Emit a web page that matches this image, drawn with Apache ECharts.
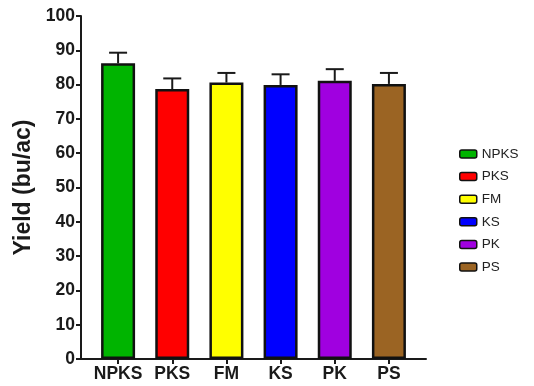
<!DOCTYPE html>
<html><head><meta charset="utf-8">
<script src="https://cdn.jsdelivr.net/npm/echarts@6/dist/echarts.min.js"></script>
<style>html,body{margin:0;padding:0;background:#fff}#c{width:534px;height:386px}</style>
</head><body><div id="c"></div>
<script>
var categories = ['NPKS', 'PKS', 'FM', 'KS', 'PK', 'PS'];
var yields = [86.2, 78.7, 80.6, 79.9, 81.1, 80.2];
var errors = [3.1, 3.1, 2.8, 3.1, 3.4, 3.2];
var colors = ['#00b400', '#ff0000', '#ffff00', '#0000ff', '#a000e0', '#9b6423'];
var yTicks = [0, 10, 20, 30, 40, 50, 60, 70, 80, 90, 100];

var chart = echarts.init(document.getElementById('c'), null, {renderer: 'canvas'});
var font = "'Liberation Sans', Arial, sans-serif";
var axisColor = '#1a1a1a';

var barSeries = categories.map(function (name, i) {
  return {
    name: name,
    type: 'bar',
    xAxisIndex: 1, yAxisIndex: 1,
    barWidth: 34,
    barGap: '-100%',
    itemStyle: {color: colors[i], borderColor: '#111', borderWidth: 2.5},
    data: categories.map(function (c, j) { return j === i ? yields[j] : '-'; }),
    z: 2
  };
});

var errData = categories.map(function (c, i) { return [i, yields[i], errors[i]]; });

var option = {
  animation: false,
  grid: [
    {left: 81, right: 108, top: 16, bottom: 27},
    {left: 91, right: 118, top: 16, bottom: 27}
  ],
  xAxis: [
    {gridIndex: 0, type: 'value', min: 0, max: 1, axisLine: {show: true, onZero: false, lineStyle: {color: axisColor, width: 2}},
     axisTick: {show: false}, axisLabel: {show: false}, splitLine: {show: false}},
    {gridIndex: 1, type: 'category', data: categories, boundaryGap: true,
     axisLine: {show: false},
     axisTick: {show: true, alignWithLabel: true, interval: 0, length: 5, lineStyle: {color: axisColor, width: 2}},
     axisLabel: {interval: 0, color: '#1a1a1a', fontFamily: font, fontWeight: 'bold', fontSize: 17.5, margin: 6}}
  ],
  yAxis: [
    {gridIndex: 0, type: 'value', min: 0, max: 100, interval: 10,
     name: 'Yield (bu/ac)', nameLocation: 'middle', nameGap: 42,
     nameTextStyle: {color: '#1a1a1a', fontFamily: font, fontWeight: 'bold', fontSize: 23},
     axisLine: {show: true, lineStyle: {color: axisColor, width: 2}},
     axisTick: {show: true, length: 5, lineStyle: {color: axisColor, width: 2}},
     axisLabel: {color: '#1a1a1a', fontFamily: font, fontWeight: 'bold', fontSize: 17.5, margin: 6,
                 formatter: function (v) { return yTicks.indexOf(v) >= 0 ? String(v) : ''; }},
     splitLine: {show: false}},
    {gridIndex: 1, type: 'value', min: 0, max: 100, interval: 10, show: false, splitLine: {show: false}}
  ],
  legend: {
    orient: 'vertical', left: 454, top: 142, itemWidth: 17, itemHeight: 8, itemGap: 8.6, padding: 5,
    textStyle: {color: '#222', fontFamily: font, fontSize: 13.5},
    itemStyle: {borderColor: '#111', borderWidth: 1.5},
    data: categories
  },
  series: barSeries.concat([{
    type: 'custom',
    xAxisIndex: 1, yAxisIndex: 1,
    data: errData,
    encode: {x: 0, y: 1},
    z: 1,
    renderItem: function (params, api) {
      var x = api.value(0), v = api.value(1), e = api.value(2);
      var base = api.coord([x, v]);
      var top = api.coord([x, v + e]);
      var half = 9;
      var style = {stroke: '#1a1a1a', lineWidth: 2};
      return {type: 'group', children: [
        {type: 'line', shape: {x1: base[0], y1: base[1], x2: top[0], y2: top[1]}, style: style},
        {type: 'line', shape: {x1: top[0] - half, y1: top[1], x2: top[0] + half, y2: top[1]}, style: style}
      ]};
    }
  }])
};
chart.setOption(option);
</script>
</body></html>
